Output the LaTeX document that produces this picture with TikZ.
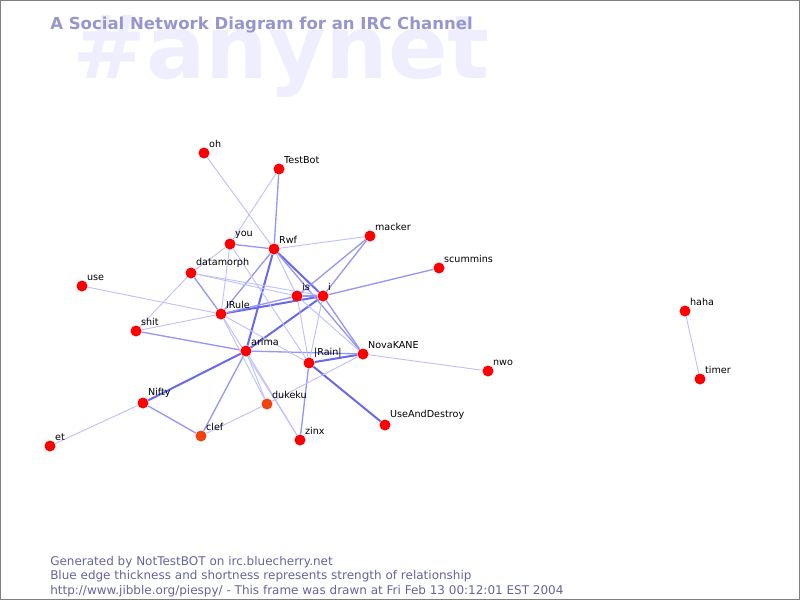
\documentclass[tikz,border=0pt]{standalone}
\usepackage{fontspec}
\setmainfont{DejaVu Sans}
\usepackage{tikz}
\usetikzlibrary{
        backgrounds,
        positioning
    }
\definecolor{nickred}{RGB}{255,0,0}
\definecolor{nickorange}{RGB}{245,65,10}
\definecolor{edgeweak}{RGB}{192,192,255}
\definecolor{edgemid}{RGB}{150,150,248}
\definecolor{edgestrong}{RGB}{105,105,240}
\definecolor{titleblue}{RGB}{150,150,205}
\definecolor{markblue}{RGB}{238,238,255}
\definecolor{footblue}{RGB}{100,100,160}
\tikzset{nick/.style={circle,fill=nickred,inner sep=0pt,minimum size=8.25pt},
         nicklbl/.style={font=\fontsize{7.2}{8}\selectfont,inner sep=0.6pt,text=black},
         footline/.style={anchor=base west,inner sep=0pt,text=footblue,font=\fontsize{9}{11}\selectfont},
         weak/.style={draw=edgeweak,line width=0.7pt},
         mid/.style={draw=edgemid,line width=1pt},
         strong/.style={draw=edgestrong,line width=1.5pt}}

\begin{document}
\begin{tikzpicture}[x=0.75pt,y=-0.75pt]
                    \useasboundingbox (0,0) rectangle (800,600);
                    \draw[gray,line width=1pt] (0.5,0.5) rectangle (799.5,599.5);
                    % watermark and title
                    \node[anchor=base west,inner sep=0pt,text=markblue,
                          font=\fontsize{66}{70}\bfseries\selectfont] (mark) at (72,78) {\#anynet};
                    \node[anchor=base west,inner sep=0pt,text=titleblue,
                          font=\fontsize{12.4}{14}\bfseries\selectfont] (title) at (50,29)
                          {A Social Network Diagram for an IRC Channel};
                    % nicks
                    \node[nick,label={[nicklbl]north east:oh}] (oh) at (204,153) {};
                    \node[nick,label={[nicklbl]north east:TestBot}] (TestBot) at (279,169) {};
                    \node[nick,label={[nicklbl]north east:you}] (you) at (230,244) {};
                    \node[nick,label={[nicklbl]north east:Rwf}] (Rwf) at (274,249) {};
                    \node[nick,label={[nicklbl]north east:macker}] (macker) at (370,236) {};
                    \node[nick,label={[nicklbl]north east:datamorph}] (datamorph) at (191,273) {};
                    \node[nick,label={[nicklbl]north east:scummins}] (scummins) at (439,268) {};
                    \node[nick,label={[nicklbl]north east:use}] (use) at (82,286) {};
                    \node[nick,label={[nicklbl]north east:is}] (is) at (297,296) {};
                    \node[nick,label={[nicklbl]north east:i}] (i) at (323,296) {};
                    \node[nick,label={[nicklbl]north east:IRule}] (IRule) at (221,314) {};
                    \node[nick,label={[nicklbl]north east:shit}] (shit) at (136,331) {};
                    \node[nick,label={[nicklbl]north east:arima}] (arima) at (246,351) {};
                    \node[nick,label={[nicklbl]north east:|Rain|}] (Rain) at (309,363) {};
                    \node[nick,label={[nicklbl]north east:NovaKANE}] (NovaKANE) at (363,354) {};
                    \node[nick,label={[nicklbl]north east:nwo}] (nwo) at (488,371) {};
                    \node[nick,label={[nicklbl]north east:Nifty}] (Nifty) at (143,403) {};
                    \node[nick,fill=nickorange,label={[nicklbl]north east:dukeku}] (dukeku) at (267,404) {};
                    \node[nick,label={[nicklbl]north east:UseAndDestroy}] (UseAndDestroy) at (385,425) {};
                    \node[nick,fill=nickorange,label={[nicklbl]north east:clef}] (clef) at (201,436) {};
                    \node[nick,label={[nicklbl]north east:zinx}] (zinx) at (300,440) {};
                    \node[nick,label={[nicklbl]north east:et}] (et) at (50,446) {};
                    \node[nick,label={[nicklbl]north east:haha}] (haha) at (685,311) {};
                    \node[nick,label={[nicklbl]north east:timer}] (timer) at (700,379) {};
                    % relationships
                    \begin{scope}[on background layer]
                    \path
                        (Rwf) edge[strong] (arima)
                        (Rwf) edge[strong] (i)
                        (arima) edge[strong] (i)
                        (IRule) edge[strong] (i)
                        (Rain) edge[strong] (UseAndDestroy)
                        (arima) edge[strong] (Nifty)
                        (Rain) edge[strong] (NovaKANE)
                        (you) edge[mid] (Rwf)
                        (i) edge[mid] (NovaKANE)
                        (datamorph) edge[mid] (IRule)
                        (i) edge[mid] (scummins)
                        (Nifty) edge[mid] (clef)
                        (arima) edge[mid] (clef)
                        (Rain) edge[mid] (zinx)
                        (TestBot) edge[mid] (Rwf)
                        (arima) edge[mid] (NovaKANE)
                        (macker) edge[mid] (i)
                        (macker) edge[mid] (is)
                        (IRule) edge[mid] (is)
                        (Rwf) edge[mid] (IRule)
                        (Rwf) edge[mid] (NovaKANE)
                        (arima) edge[mid] (shit)
                        (is) edge[mid] (i)
                        (oh) edge[weak] (Rwf)
                        (TestBot) edge[weak] (you)
                        (you) edge[weak] (datamorph)
                        (you) edge[weak] (IRule)
                        (you) edge[weak] (Rain)
                        (Rwf) edge[weak] (macker)
                        (Rwf) edge[weak] (is)
                        (datamorph) edge[weak] (is)
                        (datamorph) edge[weak] (i)
                        (datamorph) edge[weak] (shit)
                        (use) edge[weak] (IRule)
                        (shit) edge[weak] (IRule)
                        (IRule) edge[weak] (dukeku)
                        (IRule) edge[weak] (zinx)
                        (IRule) edge[weak] (Rain)
                        (is) edge[weak] (NovaKANE)
                        (is) edge[weak] (Rain)
                        (i) edge[weak] (Rain)
                        (arima) edge[weak] (dukeku)
                        (arima) edge[weak] (zinx)
                        (dukeku) edge[weak] (clef)
                        (dukeku) edge[weak] (NovaKANE)
                        (NovaKANE) edge[weak] (nwo)
                        (Nifty) edge[weak] (et)
                        (haha) edge[weak] (timer);
                    \end{scope}
                    % footer
                    \node[footline] (gen) at (50,565) {Generated by NotTestBOT on irc.bluecherry.net};
                    \node[footline] (blurb) at (50,579.5) {Blue edge thickness and shortness represents strength of relationship};
                    \node[footline] (stamp) at (50,594) {http://www.jibble.org/piespy/ - This frame was drawn at Fri Feb 13 00:12:01 EST 2004};
                \end{tikzpicture}
\end{document}
